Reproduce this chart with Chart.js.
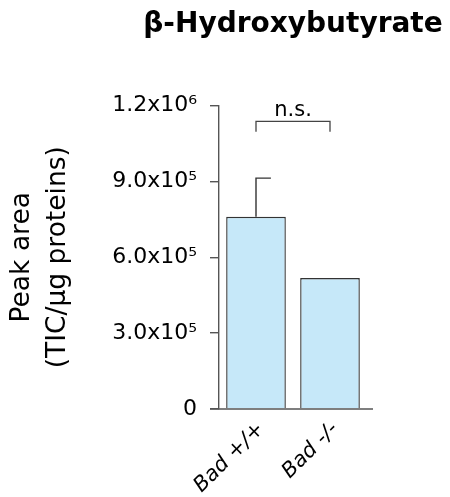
<!DOCTYPE html>
<html>
<head>
<meta charset="utf-8">
<script src="https://cdn.jsdelivr.net/npm/chart.js@4"></script>
<style>
html,body{margin:0;padding:0;background:#fff;}
#wrap{width:450px;height:497px;position:relative;}
</style>
</head>
<body>
<div id="wrap"><canvas id="c" width="450" height="497"></canvas></div>
<script>
const categories = ['Bad +/+', 'Bad -/-'];
const peakArea = [760000, 518000];
const errorUpper = [153000, 0];
const yTicks = [0, 300000, 600000, 900000, 1200000];
const yTickLabels = ['0', '3.0x10\u2075', '6.0x10\u2075', '9.0x10\u2075', '1.2x10\u2076'];
const significance = { from: 0, to: 1, level: 1137000, legBottom: 1096000, label: 'n.s.' };
const chartTitle = '\u03B2-Hydroxybutyrate';

const FONT = '"DejaVu Sans", sans-serif';

const overlay = {
  id: 'overlay',
  afterDatasetsDraw(chart) {
    const ctx = chart.ctx;
    const xs = chart.scales.x, ys = chart.scales.y;
    const meta = chart.getDatasetMeta(0);
    const area = chart.chartArea;
    ctx.save();
    ctx.strokeStyle = '#333';
    ctx.lineWidth = 1.4;
    // error bars (upper only, half cap to the right)
    meta.data.forEach((bar, i) => {
      if (!errorUpper[i]) return;
      const x = bar.x;
      const y0 = ys.getPixelForValue(peakArea[i]);
      const y1 = ys.getPixelForValue(peakArea[i] + errorUpper[i]);
      ctx.beginPath();
      ctx.moveTo(x, y0);
      ctx.lineTo(x, y1);
      ctx.lineTo(x + bar.width * 0.25, y1);
      ctx.stroke();
    });
    // x axis line
    ctx.strokeStyle = '#555';
    ctx.lineWidth = 1.4;
    const yb = ys.getPixelForValue(0);
    ctx.beginPath();
    ctx.moveTo(area.left - 9, yb);
    ctx.lineTo(area.right + 6, yb);
    ctx.stroke();
    // significance bracket
    const xa = xs.getPixelForValue(significance.from);
    const xb = xs.getPixelForValue(significance.to);
    const yl = ys.getPixelForValue(significance.level);
    const yd = ys.getPixelForValue(significance.legBottom);
    ctx.strokeStyle = '#444';
    ctx.lineWidth = 1.3;
    ctx.beginPath();
    ctx.moveTo(xa, yd);
    ctx.lineTo(xa, yl);
    ctx.lineTo(xb, yl);
    ctx.lineTo(xb, yd);
    ctx.stroke();
    ctx.fillStyle = '#000';
    ctx.font = '21px ' + FONT;
    ctx.textAlign = 'center';
    ctx.textBaseline = 'alphabetic';
    ctx.fillText(significance.label, (xa + xb) / 2, yl - 5);
    // chart title, centred over the plot area
    ctx.fillStyle = '#000';
    ctx.font = 'bold 28px ' + FONT;
    ctx.fillText(chartTitle, (area.left + area.right) / 2, 32);
    ctx.restore();
  }
};

new Chart(document.getElementById('c'), {
  type: 'bar',
  data: {
    labels: categories,
    datasets: [{
      data: peakArea,
      backgroundColor: '#C6E8F9',
      borderColor: '#333',
      borderWidth: 1.4,
      barPercentage: 0.806,
      categoryPercentage: 1.0
    }]
  },
  options: {
    responsive: false,
    animation: false,
    devicePixelRatio: 1,
    layout: { padding: { left: 0, right: 83, top: 105.5, bottom: 0 } },
    plugins: {
      legend: { display: false },
      tooltip: { enabled: false },
      title: { display: false }
    },
    scales: {
      x: {
        grid: { display: false, drawTicks: false },
        border: { display: false },
        ticks: {
          color: '#000',
          font: { family: FONT, size: 21, style: 'italic' },
          minRotation: 45,
          maxRotation: 45,
          padding: 8,
          labelOffset: 5
        },
        afterFit(s) { s.height = 88; }
      },
      y: {
        min: 0,
        max: 1200000,
        afterBuildTicks(s) { s.ticks = yTicks.map(v => ({ value: v })); },
        grid: { display: true, drawOnChartArea: false, drawTicks: true, tickLength: 9, color: '#555', lineWidth: 1.4 },
        border: { display: true, color: '#555', width: 1.4 },
        ticks: {
          color: '#000',
          font: { family: FONT, size: 22 },
          padding: 13,
          callback(v) { const i = yTicks.indexOf(v); return i >= 0 ? yTickLabels[i] : ''; }
        },
        title: {
          display: true,
          text: ['Peak area', '(TIC/\u00B5g proteins)'],
          color: '#000',
          font: { family: FONT, size: 26.5, lineHeight: 1.36 },
          padding: { top: 4, bottom: 0 }
        },
        afterFit(s) { s.width = 219; }
      }
    }
  },
  plugins: [overlay]
});
</script>
</body>
</html>
